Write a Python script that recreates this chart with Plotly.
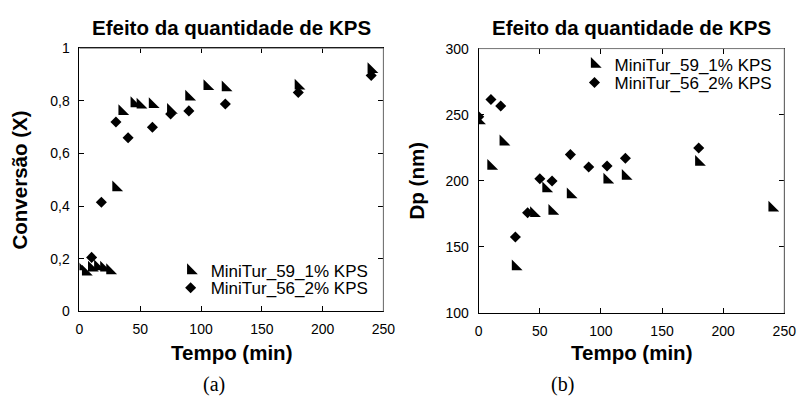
import plotly.graph_objects as go

# ---------------- data ----------------
# (a) Conversion vs time
t_conv_1 = [0, 5, 10, 15, 20, 25, 30, 35, 45, 50, 60, 75, 90, 105, 120, 180, 240]
x_conv_1 = [0.17, 0.15, 0.165, 0.17, 0.165, 0.155, 0.47, 0.76, 0.79, 0.785, 0.787, 0.765, 0.815, 0.855, 0.85, 0.857, 0.92]
t_conv_2 = [10, 18, 30, 40, 60, 75, 90, 120, 180, 240]
x_conv_2 = [0.205, 0.415, 0.72, 0.66, 0.70, 0.75, 0.762, 0.788, 0.832, 0.897]

# (b) Particle diameter vs time
t_dp_1 = [0, 10, 20, 30, 45, 55, 60, 75, 105, 120, 180, 240]
dp_1 = [245.5, 211, 229.5, 135, 175.3, 194, 177, 189.5, 200.7, 203.5, 214, 179.5]
t_dp_2 = [0, 10, 18, 30, 40, 50, 60, 75, 90, 105, 120, 180]
dp_2 = [248.5, 261.5, 256.5, 157.5, 175.8, 201.5, 199.8, 219.8, 210.4, 211.2, 217, 224.8]

name_1 = "MiniTur_59_1% KPS"
name_2 = "MiniTur_56_2% KPS"
panel_title = "Efeito da quantidade de KPS"
x_title = "Tempo (min)"
y_title_a = "Conversão (X)"
y_title_b = "Dp (nm)"

# ---------------- layout geometry ----------------
W, H = 809, 398
FONT = "Arial, Liberation Sans, sans-serif"

def px_x(p):
    return p / W

def px_y(p):
    return 1 - p / H

xa_dom = [px_x(77), px_x(387)]
ya_dom = [px_y(316), px_y(42)]
xb_dom = [px_x(484.3), px_x(796)]
yb_dom = [px_y(317.7), px_y(42.3)]

fig = go.Figure()

tri = dict(symbol="triangle-sw", size=12, color="black", line=dict(width=0))
dia = dict(symbol="diamond", size=8.5, color="black", line=dict(width=0))

fig.add_trace(go.Scatter(x=t_conv_1, y=x_conv_1, mode="markers", marker=tri,
                         name=name_1, xaxis="x", yaxis="y", legend="legend"))
fig.add_trace(go.Scatter(x=t_conv_2, y=x_conv_2, mode="markers", marker=dia,
                         name=name_2, xaxis="x", yaxis="y", legend="legend2"))
fig.add_trace(go.Scatter(x=t_dp_1, y=dp_1, mode="markers", marker=tri,
                         name=name_1, xaxis="x2", yaxis="y2", legend="legend3"))
fig.add_trace(go.Scatter(x=t_dp_2, y=dp_2, mode="markers", marker=dia,
                         name=name_2, xaxis="x2", yaxis="y2", legend="legend4"))
for tr in fig.data:
    tr.showlegend = True

tickfont = dict(family=FONT, size=14, color="black")
common = dict(showgrid=False, zeroline=False, ticks="inside", ticklen=5,
              tickwidth=1, tickcolor="black", showline=True, linecolor="black",
              linewidth=1, mirror="ticks", tickfont=tickfont)

legfont = dict(family=FONT, size=17, color="black")

def leg(xp, yp):
    return dict(x=px_x(xp), y=px_y(yp), xanchor="left", yanchor="middle",
                bgcolor="rgba(0,0,0,0)", borderwidth=0, font=legfont,
                itemwidth=30, tracegroupgap=0)

fig.update_layout(
    width=W, height=H,
    margin=dict(l=0, r=0, t=0, b=0),
    paper_bgcolor="white", plot_bgcolor="white",
    separators=",.",
    showlegend=True,
    font=dict(family=FONT, color="black"),
    xaxis=dict(domain=xa_dom, anchor="y", range=[0, 250], dtick=50,
               ticklabelstandoff=5, **common),
    yaxis=dict(domain=ya_dom, anchor="x", range=[0, 1], dtick=0.2,
               ticklabelstandoff=6, **common),
    xaxis2=dict(domain=xb_dom, anchor="y2", range=[0, 250], dtick=50,
                ticklabelstandoff=5, **common),
    yaxis2=dict(domain=yb_dom, anchor="x2", range=[100, 300], dtick=50,
                ticklabelstandoff=6, **common),
    legend=leg(170, 274),
    legend2=leg(170, 292),
    legend3=leg(582, 59),
    legend4=leg(582, 78),
)

# grey top / right frame lines (drawn over the mirrored axis lines)
shapes = []
for xd, yd in ((xa_dom, ya_dom), (xb_dom, yb_dom)):
    shapes.append(dict(type="line", xref="paper", yref="paper",
                       x0=xd[0], x1=xd[1], y0=yd[1], y1=yd[1],
                       line=dict(color="#8c8c8c", width=1), layer="above"))
    shapes.append(dict(type="line", xref="paper", yref="paper",
                       x0=xd[1], x1=xd[1], y0=yd[0], y1=yd[1],
                       line=dict(color="#8c8c8c", width=1), layer="above"))
fig.update_layout(shapes=shapes)

ann = []
bold = dict(family=FONT, size=20.5, color="black")
for cx in (232, 640):
    ann.append(dict(text="<b>" + panel_title + "</b>", x=px_x(cx), y=px_y(20),
                    xref="paper", yref="paper", showarrow=False, font=bold,
                    xanchor="center", yanchor="middle"))
    ann.append(dict(text="<b>" + x_title + "</b>", x=px_x(cx), y=px_y(359),
                    xref="paper", yref="paper", showarrow=False, font=bold,
                    xanchor="center", yanchor="middle"))
ann.append(dict(text="<b>" + y_title_a + "</b>", x=px_x(16), y=px_y(179),
                xref="paper", yref="paper", showarrow=False, font=bold,
                textangle=-90, xanchor="center", yanchor="middle"))
ann.append(dict(text="<b>" + y_title_b + "</b>", x=px_x(421), y=px_y(180),
                xref="paper", yref="paper", showarrow=False, font=bold,
                textangle=-90, xanchor="center", yanchor="middle"))
serif = dict(family="Liberation Serif, Times New Roman, serif", size=20, color="black")
ann.append(dict(text="(a)", x=px_x(214), y=px_y(392), xref="paper", yref="paper",
                showarrow=False, font=serif, xanchor="center", yanchor="middle"))
ann.append(dict(text="(b)", x=px_x(570), y=px_y(392), xref="paper", yref="paper",
                showarrow=False, font=serif, xanchor="center", yanchor="middle"))
fig.update_layout(annotations=ann)

fig.write_html("out.html")
